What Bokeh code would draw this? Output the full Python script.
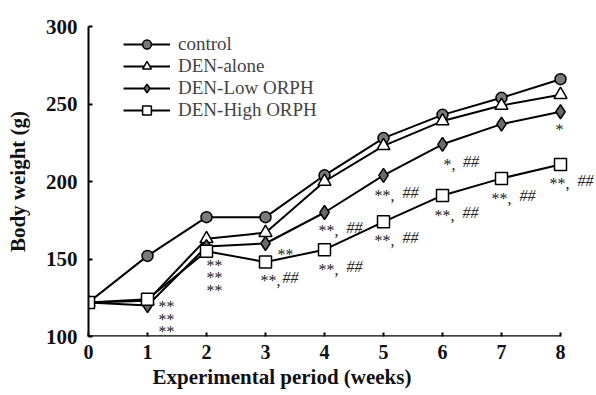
from bokeh.plotting import figure
from bokeh.models import Legend, LegendItem, Title, FixedTicker, Range1d, ColumnDataSource
from bokeh.embed import file_html
from bokeh.resources import INLINE
from bokeh.core.properties import value

# ---------------- data ----------------
weeks = [0, 1, 2, 3, 4, 5, 6, 7, 8]
control = [122, 152, 177, 177, 204, 228, 243, 254, 266]
den_alone = [122, 123, 163, 167, 200, 223, 239, 249, 256]
den_low = [122, 120, 158, 160, 180, 204, 224, 237, 245]
den_high = [122, 124, 155, 148, 156, 174, 191, 202, 211]
series_names = ["control", "DEN-alone", "DEN-Low ORPH", "DEN-High ORPH"]
x_ticks = [0, 1, 2, 3, 4, 5, 6, 7, 8]
y_ticks = [100, 150, 200, 250, 300]
x_title = "Experimental period (weeks)"
y_title = "Body weight (g)"

# significance annotations: week, series index, star part, hash part
ann_week = [1, 1, 1, 2, 2, 2, 3, 3, 4, 4, 5, 5, 6, 6, 7, 8, 8]
ann_series = [2, 2, 2, 3, 3, 3, 2, 3, 2, 3, 2, 3, 2, 3, 3, 2, 3]
ann_stars = ["**", "**", "**", "**", "**", "**", "**", "**,", "**, ", "**, ",
             "**, ", "**, ", "*, ", "**, ", "**, ", "*", "**, "]
ann_hash = ["", "", "", "", "", "", "", "##", "##", "##",
            "##", "##", "##", "##", "##", "", "##"]

# pixel offsets of each annotation from its data point (layout only)
ann_dx = [11, 11, 11, 0, 0, 0, 12, -5, -6, -6, -9, -9, 1, -8, -10, -5, -11]
ann_dy = [-2, 11, 23, 11, 23, 36, 8, 15, 15, 17, 17, 16, 17, 17, 17, 15, 16]

SERIF = "Liberation Serif"

# layout: axis spans 472 px for weeks 0..8, frame extends to the canvas edge for the labels
W, H = 596, 392
LEFT, TOP, AXIS_PX, FRAME_H = 88, 26, 472, 310
frame_w = W - LEFT
x_end = x_ticks[-1] * frame_w / AXIS_PX

p = figure(width=W, height=H, output_backend="svg", toolbar_location=None,
           x_range=Range1d(x_ticks[0], x_end), y_range=Range1d(y_ticks[0], y_ticks[-1]),
           min_border_left=LEFT, min_border_right=0, min_border_top=TOP,
           min_border_bottom=H - TOP - FRAME_H)
p.outline_line_color = None
p.xgrid.visible = False
p.ygrid.visible = False
p.background_fill_color = "white"

for ax, ticks, fs, so in ((p.xaxis[0], x_ticks, "20px", 8), (p.yaxis[0], y_ticks, "21px", 11)):
    ax.ticker = FixedTicker(ticks=ticks)
    ax.minor_tick_line_color = None
    ax.major_tick_in = 4
    ax.major_tick_out = 0
    ax.axis_line_width = 2
    ax.major_tick_line_width = 2
    ax.major_label_text_font = SERIF
    ax.major_label_text_font_style = "bold"
    ax.major_label_text_font_size = fs
    ax.major_label_text_color = "#111111"
    ax.major_label_standoff = so

# x axis line only from first to last week
p.xaxis.axis_line_color = None
p.segment(x0=[x_ticks[0]], y0=[y_ticks[0]], x1=[x_ticks[-1]], y1=[y_ticks[0]],
          line_color="black", line_width=2.5)

p.yaxis.axis_label = y_title
p.yaxis.axis_label_text_font = SERIF
p.yaxis.axis_label_text_font_style = "bold"
p.yaxis.axis_label_text_font_size = "21px"
p.yaxis.axis_label_text_color = "#111111"
p.yaxis.axis_label_standoff = 13

series_vals = [control, den_alone, den_low, den_high]
markers = ["circle", "triangle", "diamond", "square"]
fills = ["#7a7a7a", "white", "#6a6a6a", "white"]
sizes = [11, 13, 14, 12]

items = []
for name, vals, mk, fc, sz in zip(series_names, series_vals, markers, fills, sizes):
    src = ColumnDataSource(dict(x=weeks, y=vals))
    lr = p.line("x", "y", source=src, line_color="black", line_width=2)
    sr = p.scatter("x", "y", source=src, marker=mk, size=sz, fill_color=fc,
                   line_color="black", line_width=1.5)
    items.append(LegendItem(label=name, renderers=[lr, sr]))

legend = Legend(items=items, location=(35, 215), orientation="vertical",
                glyph_width=47, glyph_height=22, label_height=22, spacing=0,
                padding=0, margin=0, label_standoff=8,
                label_text_font=SERIF, label_text_font_size="19px",
                border_line_color=None, background_fill_alpha=0)
p.add_layout(legend, "center")

# annotations
ann_y = [series_vals[ann_series[i]][weeks.index(ann_week[i])] for i in range(len(ann_week))]
char_w = {"*": 8.5, ",": 5.0, " ": 6.0}
hash_dx = [ann_dx[i] + sum(char_w[c] for c in ann_stars[i]) for i in range(len(ann_week))]

for i in range(len(ann_week)):
    p.text(x=[ann_week[i]], y=[ann_y[i]], text=[ann_stars[i]], x_offset=ann_dx[i], y_offset=ann_dy[i] + 3,
           text_font=value(SERIF), text_font_size="16px", text_align="left",
           text_baseline="middle", text_color="#222222")
    if ann_hash[i]:
        p.text(x=[ann_week[i]], y=[ann_y[i]], text=[ann_hash[i]], x_offset=hash_dx[i], y_offset=ann_dy[i],
               text_font=value(SERIF), text_font_size="16px", text_font_style="italic",
               text_align="left", text_baseline="middle", text_color="#222222")

# x axis title (offset to the left like the reference)
p.add_layout(Title(text=x_title, align="left", offset=64, text_font=SERIF,
                   text_font_style="bold", text_font_size="21px", text_color="#111111",
                   standoff=2), "below")

open("out.html", "w").write(file_html(p, INLINE))
